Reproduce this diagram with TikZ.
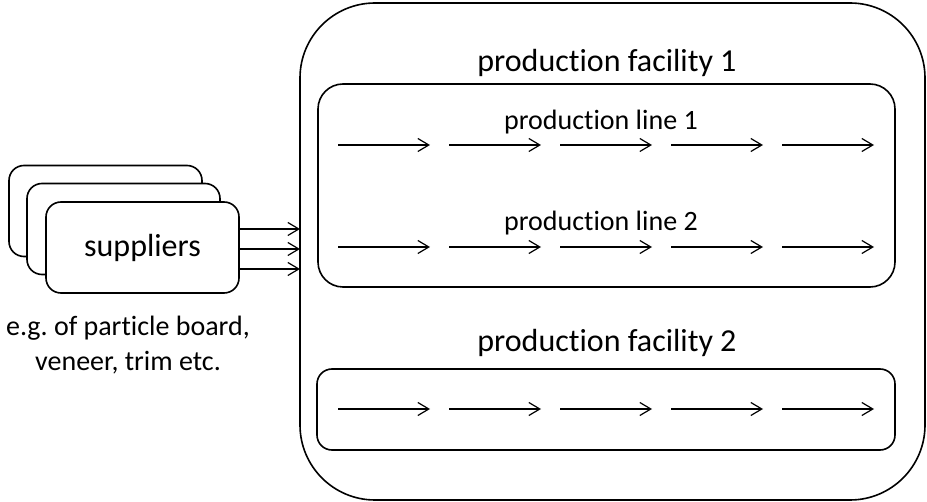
\documentclass[tikz,border=0pt]{standalone}
\usepackage{fontspec}
\setmainfont{Carlito}[Ligatures=NoCommon]
\usepackage{tikz}
\usetikzlibrary{arrows.meta}

\begin{document}
\begin{tikzpicture}[x=1pt, y=-1pt,
    box/.style={draw, line width=1.6pt, fill=white, inner sep=0pt, outer sep=0pt},
    flow/.style={-{Straight Barb[length=11pt, width=13pt]}, line width=1.2pt},
    big/.style={font=\fontsize{32}{38}\selectfont},
    small/.style={font=\fontsize{28}{35}\selectfont}]
    \useasboundingbox (0,0) rectangle (927,502);
    % Draw the production facilities
    \node[box, rounded corners=75pt, minimum width=625pt, minimum height=497pt] (fac1) at (612.5,251.5) {};
    \node[box, rounded corners=25pt, minimum width=577pt, minimum height=203pt] (line1) at (606.5,185.5) {};
    \node[box, rounded corners=15pt, minimum width=578pt, minimum height=81pt] (line2) at (606,409.5) {};
    % Draw the labels
    \node[big] (fac1label) at (607,63) {production facility 1};
    \node[small] (line1label) at (601,122) {production line 1};
    \node[small] (line2label) at (601,223) {production line 2};
    \node[big] (fac2label) at (607,343) {production facility 2};
    % Draw the process steps
    \foreach \r/\y in {a/145, b/247, c/409}
        \foreach \i in {0,...,4} {
            \coordinate (s\r\i) at (338+111*\i,\y);
            \coordinate (e\r\i) at (430+111*\i,\y);
            \draw[flow] (s\r\i) -- (e\r\i);
        }
    % Draw the suppliers
    \node[box, rounded corners=15pt, minimum width=193pt, minimum height=91pt] (sup1) at (105.5,211) {};
    \node[box, rounded corners=15pt, minimum width=193pt, minimum height=91pt] (sup2) at (123.5,229) {};
    \node[box, rounded corners=15pt, minimum width=193pt, minimum height=91pt, big] (sup3) at (142.5,247.5) {suppliers};
    \node[small, align=center] (note) at (128,345) {e.g.\ of particle board,\\veneer, trim etc.};
    % Draw the deliveries
    \foreach \y in {229,249,269}
        \draw[flow] (sup3.east |- 0,\y) -- (fac1.west |- 0,\y);
\end{tikzpicture}
\end{document}
